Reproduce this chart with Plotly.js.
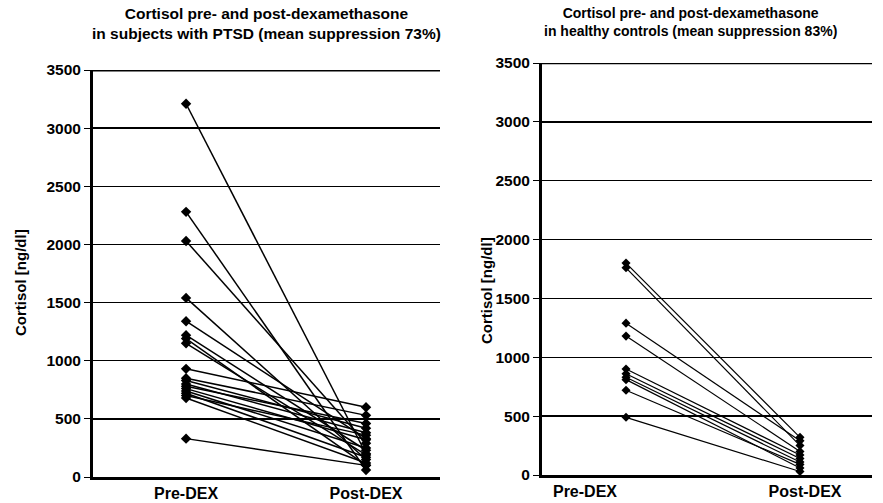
<!DOCTYPE html>
<html>
<head>
<meta charset="utf-8">
<script src="https://cdn.plot.ly/plotly-3.0.1.min.js"></script>
<style>html,body{margin:0;padding:0;background:#fff;}#chart{width:883px;height:503px;}</style>
</head>
<body>
<div id="chart"></div>
<script>
// Categories
var categories = ["Pre-DEX", "Post-DEX"];
var yTickVals = [0, 500, 1000, 1500, 2000, 2500, 3000, 3500];

// PTSD subjects (left panel)
var ptsdPre  = [3210, 2280, 2030, 1540, 1340, 1220, 1190, 1150, 930, 850, 830, 800, 780, 760, 740, 720, 700, 680, 330];
var ptsdPost = [ 200,   60,  290,  150,  330,  230,  100,  190, 600, 530, 420, 380, 460, 320, 250, 170, 360, 120, 100];

// Healthy controls (right panel)
var ctrlPre  = [1800, 1760, 1290, 1180, 900, 860, 830, 810, 720, 490];
var ctrlPost = [ 320,  250,  290,  200, 170, 140, 110,  60,  90,  30];

var FONT = "Liberation Sans, Arial, Helvetica, sans-serif";
var traces = [];
function addPairs(pre, post, xa, ya, lw, ms) {
  for (var i = 0; i < pre.length; i++) {
    traces.push({
      x: [0, 1], y: [pre[i], post[i]], xaxis: xa, yaxis: ya,
      type: "scatter", mode: "lines+markers", showlegend: false,
      line: {color: "#000", width: lw},
      marker: {symbol: "diamond", size: ms, color: "#000"},
      hoverinfo: "y"
    });
  }
}
addPairs(ptsdPre, ptsdPost, "x", "y", 1.5, 8);
addPairs(ctrlPre, ctrlPost, "x2", "y2", 1.2, 7);

function yax(dom, anchor) {
  return {
    domain: dom, anchor: anchor, range: [0, 3500], tickvals: yTickVals,
    showgrid: true, gridcolor: "#000", gridwidth: 1.5,
    showline: true, linecolor: "#000", linewidth: 3,
    ticks: "outside", ticklen: 6, tickwidth: 1, tickcolor: "#000",
    tickfont: {family: FONT, size: 15.5, color: "#000", weight: "bold"},
    zeroline: false, fixedrange: true
  };
}
function xax(dom, anchor, range, tv) {
  return {
    domain: dom, anchor: anchor, range: range,
    tickvals: tv, ticktext: categories,
    showgrid: false, zeroline: false,
    showline: true, linecolor: "#000", linewidth: 3,
    ticks: "", tickfont: {family: FONT, size: 16, color: "#000", weight: "bold"},
    fixedrange: true
  };
}

var layout = {
  width: 883, height: 503,
  margin: {l: 0, r: 0, t: 0, b: 0},
  paper_bgcolor: "#fff", plot_bgcolor: "#fff",
  font: {family: FONT, color: "#000"},
  xaxis: xax([93/883, 440/883], "y", [-0.517, 1.411], [0, 1]),
  yaxis: yax([1 - 477/503, 1 - 70/503], "x"),
  xaxis2: xax([542/883, 872/883], "y2", [-0.483, 1.414], [-0.236, 1.029]),
  yaxis2: yax([1 - 475/503, 1 - 63/503], "x2"),
  shapes: [
    {type: "line", xref: "x domain", yref: "y", x0: 0, x1: 1, y0: 3500, y1: 3500, line: {color: "#000", width: 3}},
    {type: "line", xref: "x2 domain", yref: "y2", x0: 0, x1: 1, y0: 3500, y1: 3500, line: {color: "#000", width: 2.5}}
  ],
  annotations: [
    {xref: "paper", yref: "paper", x: 266/883, y: 1 - 23/503, xanchor: "center", yanchor: "middle", showarrow: false,
     text: "Cortisol pre- and post-dexamethasone<br>in subjects with PTSD (mean suppression 73%)",
     font: {family: FONT, size: 15.5, color: "#000", weight: "bold"}},
    {xref: "paper", yref: "paper", x: 690/883, y: 1 - 22/503, xanchor: "center", yanchor: "middle", showarrow: false,
     text: "Cortisol pre- and post-dexamethasone<br>in healthy controls (mean suppression 83%)",
     font: {family: FONT, size: 14, color: "#000", weight: "bold"}},
    {xref: "paper", yref: "paper", x: 20/883, y: 1 - 283/503, textangle: -90, xanchor: "center", yanchor: "middle", showarrow: false,
     text: "Cortisol [ng/dl]", font: {family: FONT, size: 15, color: "#000", weight: "bold"}},
    {xref: "paper", yref: "paper", x: 486/883, y: 1 - 290/503, textangle: -90, xanchor: "center", yanchor: "middle", showarrow: false,
     text: "Cortisol [ng/dl]", font: {family: FONT, size: 15, color: "#000", weight: "bold"}}
  ]
};

Plotly.newPlot("chart", traces, layout, {displayModeBar: false, staticPlot: true});
</script>
</body>
</html>
